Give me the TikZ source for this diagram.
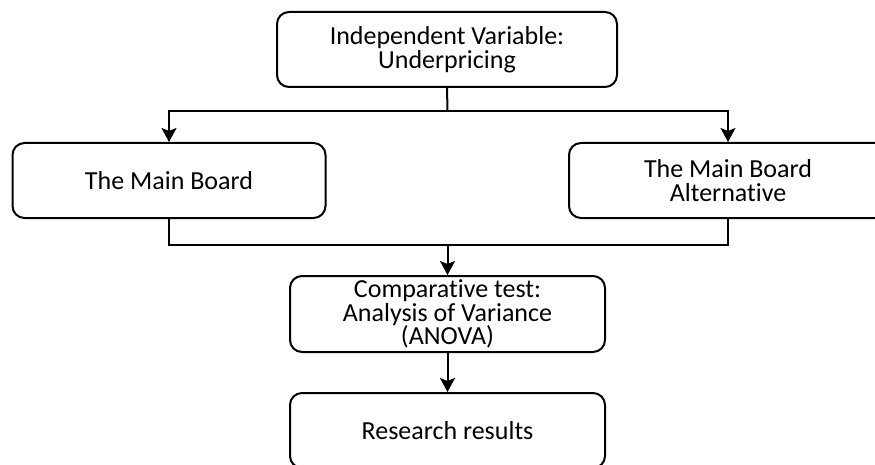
\documentclass[tikz,border=0pt]{standalone}
\usepackage{fontspec}
\setmainfont{Carlito}[Ligatures=NoCommon]
\usepackage{tikz}
\usetikzlibrary{arrows.meta}

\begin{document}
\begin{tikzpicture}[x=1pt,y=-1pt,
	box/.style={draw, line width=2pt, rounded corners=12pt, inner sep=0pt, align=center,
		font={\fontsize{26}{23.5}\selectfont}},
	flow/.style={line width=2pt, -{Stealth[length=14pt, width=15pt, inset=3pt]}}]
	\useasboundingbox (0,0) rectangle (875,465);
	\node[box, minimum width=340pt, minimum height=75pt] (Top) at (447,49.5) {Independent Variable:\\Underpricing};
	\node[box, minimum width=313pt, minimum height=75pt] (Main) at (169,180.5) {The Main Board};
	\node[box, minimum width=318pt, minimum height=75pt] (Alt) at (728,180.5) {The Main Board\\Alternative};
	\node[box, minimum width=315pt, minimum height=76pt] (Anova) at (447.5,314) {Comparative test:\\Analysis of Variance\\(ANOVA)};
	\node[box, minimum width=315pt, minimum height=75pt] (Result) at (447.5,430.5) {Research results};
	\coordinate (Split) at (447.5,111);
	\coordinate (Join) at (447.5,245);

	\draw[line width=2pt] (Top.south) -- (Split);
	\draw[flow] (Split) -| (Main.north);
	\draw[flow] (Split) -| (Alt.north);
	\draw[line width=2pt] (Main.south) |- (Join) -| (Alt.south);
	\draw[flow] (Join) -- (Anova.north);
	\draw[flow] (Anova.south) -- (Result.north);
\end{tikzpicture}
\end{document}
